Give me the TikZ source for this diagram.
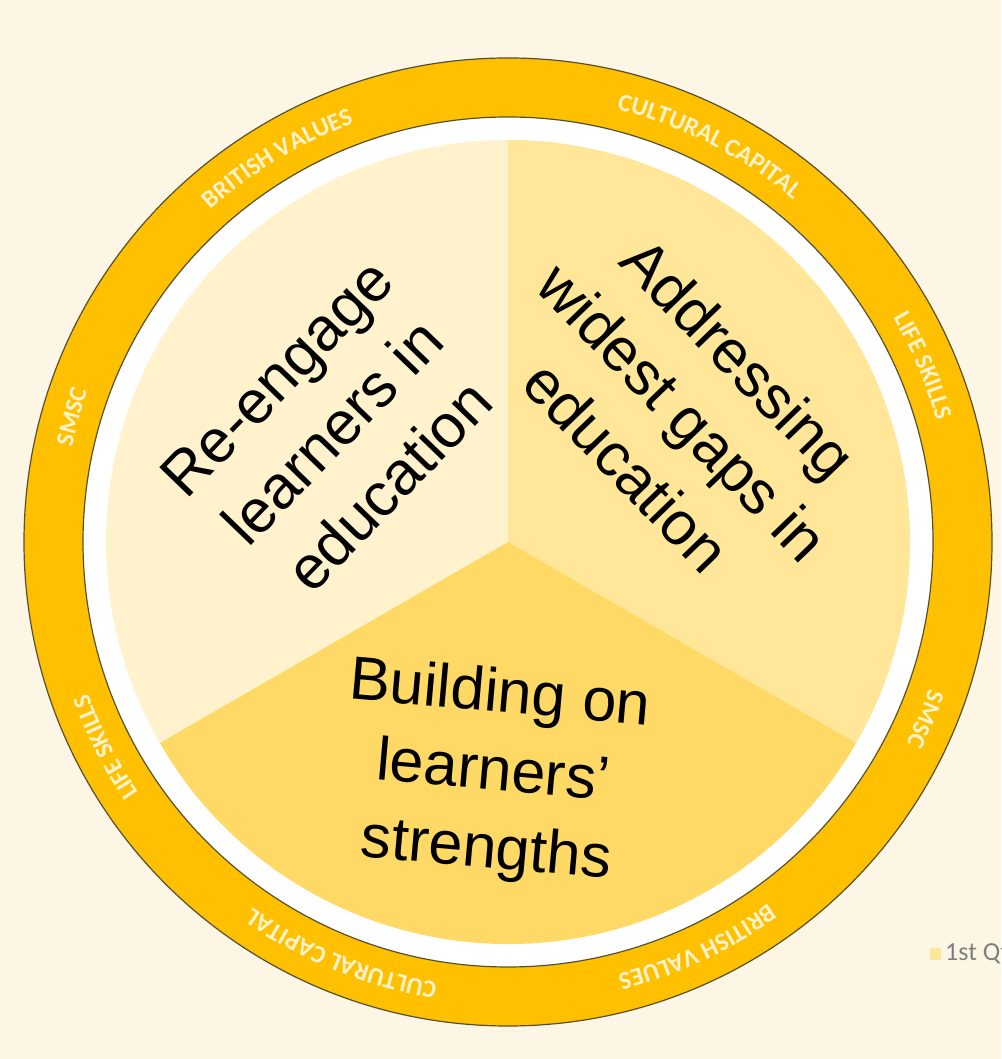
\documentclass[tikz,border=0pt]{standalone}
\usepackage{fontspec}
\setmainfont{Liberation Sans}
\newfontfamily\ringfont{Carlito}
\usetikzlibrary{decorations.text,calc}
\definecolor{bgcol}{RGB}{253,246,228}
\definecolor{ringcol}{RGB}{255,192,0}
\definecolor{ringline}{RGB}{85,80,50}
\definecolor{ringtext}{RGB}{255,242,204}
\definecolor{sliceA}{RGB}{255,242,204}
\definecolor{sliceB}{RGB}{255,230,153}
\definecolor{sliceC}{RGB}{255,217,102}
\definecolor{legtext}{RGB}{127,127,127}
\tikzset{
  ringlabel/.style={decorate,decoration={text along path,text align=center,
     text={|\ringfont\bfseries\fontsize{25}{25}\selectfont\color{ringtext}|#1}}},
  bigtext/.style={align=center,font=\fontsize{61}{78}\selectfont,text=black,inner sep=0pt}
}
\begin{document}
\begin{tikzpicture}[x=1pt,y=1pt]
\fill[bgcol] (0,0) rectangle (1001,1059);
\useasboundingbox (0,0) rectangle (1001,1059);
\begin{scope}[shift={(508,517)}]
  % ring
  \fill[ringcol] (0,0) circle (484);
  \draw[ringline,line width=1.2pt] (0,0) circle (484);
  \fill[white] (0,0) circle (425);
  \draw[ringline,line width=1.2pt] (0,0) circle (425);
  % slices
  \fill[sliceA] (0,0) -- (90:402) arc[start angle=90,end angle=210,radius=402] -- cycle;
  \fill[sliceB] (0,0) -- (-30:402) arc[start angle=-30,end angle=90,radius=402] -- cycle;
  \fill[sliceC] (0,0) -- (210:402) arc[start angle=210,end angle=330,radius=402] -- cycle;
  % ring labels (clockwise, tops outward)
  \path[ringlabel={BRITISH VALUES}] (146:446) arc[start angle=146,end angle=96,radius=446];
  \path[ringlabel={CULTURAL CAPITAL}] (88:446) arc[start angle=88,end angle=38,radius=446];
  \path[ringlabel={LIFE SKILLS}] (48:446) arc[start angle=48,end angle=-2,radius=446];
  \path[ringlabel={SMSC}] (-3:446) arc[start angle=-3,end angle=-43,radius=446];
  \path[ringlabel={BRITISH VALUES}] (-40:446) arc[start angle=-40,end angle=-90,radius=446];
  \path[ringlabel={CULTURAL CAPITAL}] (-87:446) arc[start angle=-87,end angle=-137,radius=446];
  \path[ringlabel={LIFE SKILLS}] (-128:446) arc[start angle=-128,end angle=-178,radius=446];
  \path[ringlabel={SMSC}] (184:446) arc[start angle=184,end angle=144,radius=446];
\end{scope}
% main texts
\node[bigtext,rotate=46] (reengage) at (333,627) {Re-engage\\learners in\\education};
\node[bigtext,rotate=-46] (addressing) at (683,647) {Addressing\\widest gaps in\\education};
\node[bigtext,rotate=-5] (building) at (493,285) {Building on\\learners’\\strengths};
% legend
\fill[sliceB] (930,99) rectangle (941,111);
\node[anchor=west,inner sep=0pt,text=legtext,font=\ringfont\fontsize{26}{26}\selectfont] (legend) at (945,105) {1st Qtr};
\end{tikzpicture}
\end{document}
